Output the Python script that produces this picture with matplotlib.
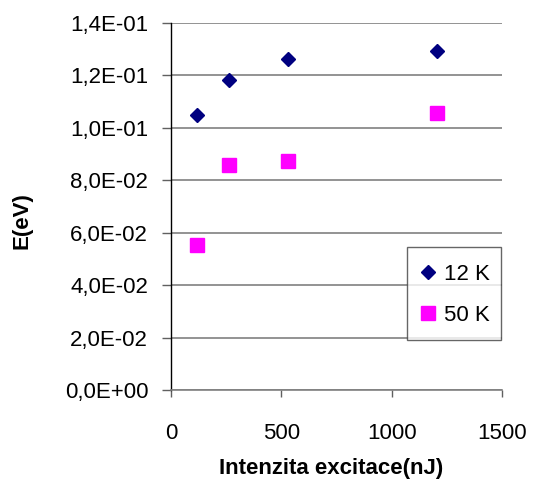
import matplotlib
matplotlib.use("Agg")
import numpy as np
import matplotlib.pyplot as plt
from matplotlib.legend_handler import HandlerLine2D
from matplotlib.ticker import FuncFormatter, MultipleLocator

plt.rcParams['font.family'] = ['Liberation Sans', 'DejaVu Sans']

# Excitation intensity (nJ) and energy (eV)
x_12K = [117, 261, 532, 1203]
e_12K = [0.1051, 0.1181, 0.1263, 0.1295]
x_50K = [117, 261, 532, 1203]
e_50K = [0.0555, 0.0860, 0.0875, 0.1058]


class CenteredMarkerHandler(HandlerLine2D):
    """Legend handler that lowers the marker to the middle of the label text."""

    def create_artists(self, legend, orig_handle, xdescent, ydescent,
                       width, height, fontsize, trans):
        artists = super().create_artists(legend, orig_handle, xdescent,
                                         ydescent, width, height, fontsize,
                                         trans)
        for art in artists:
            art.set_ydata(np.asarray(art.get_ydata()) - 0.14 * fontsize)
        return artists


fig = plt.figure(figsize=(5.33, 4.90), dpi=100)
ax = fig.add_axes([0.321, 0.204, 0.621, 0.749])

ax.plot(x_12K, e_12K, linestyle='none', marker='D', markersize=7,
        color='#000080', label='12 K')
ax.plot(x_50K, e_50K, linestyle='none', marker='s', markersize=9.5,
        color='#FF00FF', label='50 K')

ax.set_xlim(0, 1500)
ax.set_ylim(0, 0.14)
ax.xaxis.set_major_locator(MultipleLocator(500))
ax.yaxis.set_major_locator(MultipleLocator(0.02))


def sci_comma(v, pos):
    return f"{v:.1E}".replace('.', ',')


ax.yaxis.set_major_formatter(FuncFormatter(sci_comma))

ax.grid(axis='y', color='#808080', linewidth=1.2)
ax.set_axisbelow(True)
for side in ('top', 'right'):
    ax.spines[side].set_visible(False)
ax.spines['left'].set_color('black')
ax.spines['left'].set_linewidth(1.0)
ax.spines['bottom'].set_color('#808080')
ax.spines['bottom'].set_linewidth(1.2)

ax.tick_params(axis='y', direction='out', length=6.5, width=1, color='#606060',
               labelsize=16, pad=10)
ax.tick_params(axis='x', direction='out', length=5, width=1, color='#606060',
               labelsize=16, pad=19)

ax.set_xlabel('Intenzita excitace(nJ)', fontsize=16, fontweight='bold')
ax.set_ylabel('E(eV)', fontsize=16, fontweight='bold')
ax.xaxis.set_label_coords(0.483, -0.185)
ax.yaxis.set_label_coords(-0.42, 0.463)

leg = ax.legend(loc='lower right', bbox_to_anchor=(0.996, 0.136), fontsize=16,
                frameon=True, fancybox=False, handletextpad=0.25,
                handlelength=0.9, handleheight=1.75, borderpad=0.5,
                labelspacing=0.44, borderaxespad=0,
                handler_map={matplotlib.lines.Line2D: CenteredMarkerHandler()})
leg.get_frame().set_edgecolor('#404040')
leg.get_frame().set_linewidth(1.0)

fig.savefig('out.png', dpi=100)
